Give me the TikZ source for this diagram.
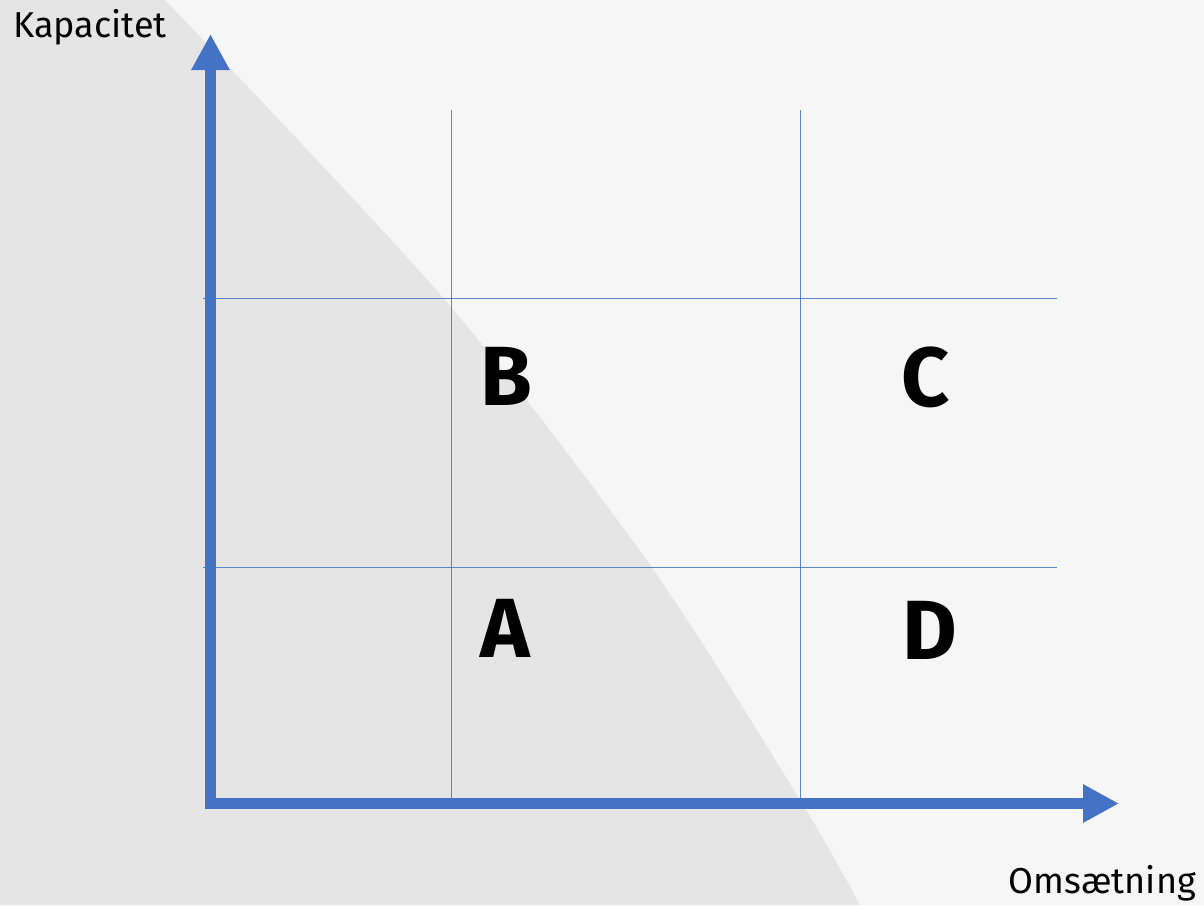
\documentclass[tikz,border=0pt]{standalone}
\usepackage{fontspec}
\setmainfont{Fira Sans}
\usetikzlibrary{arrows.meta}
\definecolor{bgl}{HTML}{F6F6F6}
\definecolor{bgd}{HTML}{E5E5E5}
\definecolor{axblue}{HTML}{4472C4}
\tikzset{
  axis/.style={draw=axblue, line width=11pt, -{Triangle[length=36pt,width=36pt]}},
  grid line/.style={draw=axblue, line width=0.9pt, opacity=0.85},
  axlabel/.style={font=\fontsize{36}{40}\selectfont, text=black, inner sep=0pt},
  quad/.style={font=\fontsize{84}{90}\selectfont\bfseries, text=black, inner sep=0pt}
}
\begin{document}
\begin{tikzpicture}[x=1pt,y=-1pt]
\useasboundingbox (0,0) rectangle (1204,905);
\fill[bgl] (0,0) rectangle (1204,905);
\fill[bgd] plot[smooth] coordinates {(165,0) (445,300) (650,565) (800,800) (860,905)} -- (0,905) -- (0,0) -- cycle;
% grid
\coordinate (v1t) at (451,110); \coordinate (v1b) at (451,800);
\coordinate (v2t) at (800,110); \coordinate (v2b) at (800,800);
\coordinate (h1l) at (203,298); \coordinate (h1r) at (1057,298);
\coordinate (h2l) at (203,567); \coordinate (h2r) at (1057,567);
\draw[grid line] (v1t) -- (v1b);
\draw[grid line] (v2t) -- (v2b);
\draw[grid line] (h1l) -- (h1r);
\draw[grid line] (h2l) -- (h2r);
% axes
\coordinate (ybot) at (210.5,809);
\coordinate (ytip) at (210.5,34);
\coordinate (xleft) at (205,803.5);
\coordinate (xtip) at (1119,803.5);
\draw[axis] (ybot) -- (ytip);
\draw[axis] (xleft) -- (xtip);
% labels
\node[axlabel, anchor=base west] (ky) at (13,37) {Kapacitet};
\node[axlabel, anchor=base east] (kx) at (1196,893) {Omsætning};
\node[quad] (B) at (506,376) {B};
\node[quad] (C) at (926,377) {C};
\node[quad] (A) at (505,628) {A};
\node[quad] (D) at (930,630) {D};
\end{tikzpicture}
\end{document}
